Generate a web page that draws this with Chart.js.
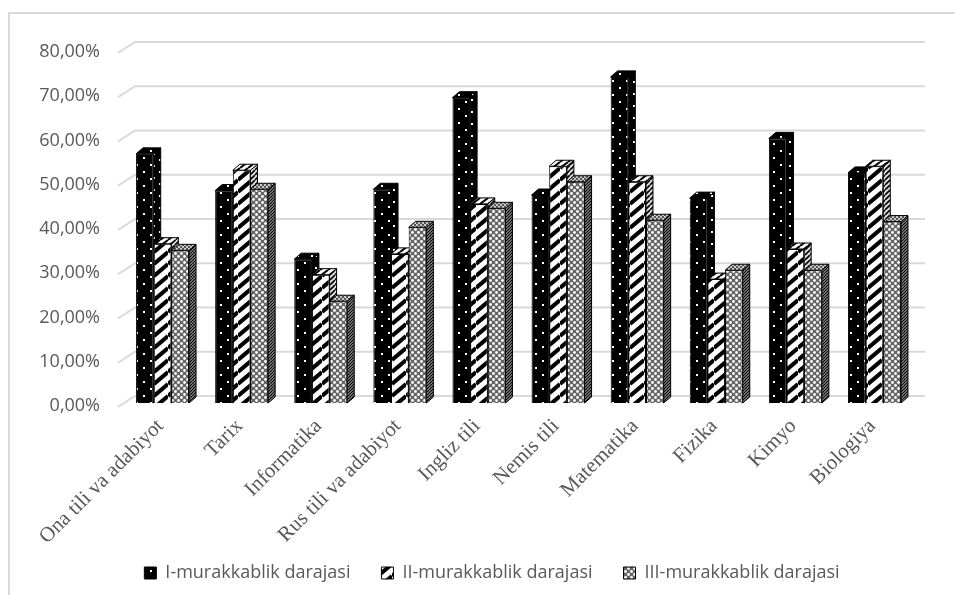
<!DOCTYPE html>
<html>
<head>
<meta charset="utf-8">
<script src="https://cdn.jsdelivr.net/npm/chart.js@4"></script>
<style>
html, body { margin: 0; padding: 0; background: #fff; }
canvas { display: block; }
</style>
</head>
<body>
<canvas id="chart" width="955" height="595"></canvas>
<script>
const categories = ['Ona tili va adabiyot', 'Tarix', 'Informatika', 'Rus tili va adabiyot', 'Ingliz tili', 'Nemis tili', 'Matematika', 'Fizika', 'Kimyo', 'Biologiya'];
const level1 = [56.3, 48, 32.5, 48.3, 69, 47, 73.7, 46.3, 59.8, 52];
const level2 = [36, 52.6, 29, 33.7, 45, 53.5, 50, 28, 34.8, 53.5];
const level3 = [34.5, 48.3, 23, 39.7, 44, 50, 41.3, 30, 30, 41];
const seriesNames = ['I-murakkablik darajasi', 'II-murakkablik darajasi', 'III-murakkablik darajasi'];

const DEPTH_X = 7;
const DEPTH_Y = 6;

function tile(w, h, paint) {
    const c = document.createElement('canvas');
    c.width = w;
    c.height = h;
    paint(c.getContext('2d'));
    return c.getContext('2d').createPattern(c, 'repeat');
}

function dots(size) {
    return tile(size, size, g => {
        g.fillStyle = '#000';
        g.fillRect(0, 0, size, size);
        g.fillStyle = '#fff';
        g.fillRect(3, 3, 2, 2);
        g.fillRect(3 + size / 2, 3 + size / 2, 2, 2);
    });
}

function stripes(w, h, lw, bg) {
    return tile(w, h, g => {
        g.fillStyle = bg;
        g.fillRect(0, 0, w, h);
        g.strokeStyle = '#000';
        g.lineWidth = lw;
        [-1, 0, 1].forEach(k => {
            g.beginPath();
            g.moveTo(0, h + k * h);
            g.lineTo(w, k * h);
            g.stroke();
        });
    });
}

function lattice(size, bg) {
    return tile(size, size, g => {
        g.fillStyle = bg;
        g.fillRect(0, 0, size, size);
        g.fillStyle = '#fff';
        [[size / 4, size / 4], [size * 3 / 4, size * 3 / 4]].forEach(p => {
            g.beginPath();
            g.arc(p[0], p[1], size / 4 - 0.1, 0, Math.PI * 2);
            g.fill();
        });
    });
}

const fronts = [dots(14), stripes(14, 12, 4, '#fff'), lattice(6, '#666')];
const sides = [dots(12), stripes(5, 5, 1.6, '#ddd'), stripes(3, 3, 1.2, '#999')];
const tops = [dots(14), stripes(8, 6, 2, '#fff'), lattice(4, '#555')];

// frame of the picture, left and top only
const framePlugin = {
    id: 'frame',
    beforeDraw(chart) {
        const c = chart.ctx;
        c.save();
        c.fillStyle = '#fff';
        c.fillRect(0, 0, chart.width, chart.height);
        c.strokeStyle = '#d9d9d9';
        c.lineWidth = 2;
        c.beginPath();
        c.moveTo(9, 595);
        c.lineTo(9, 13);
        c.lineTo(955, 13);
        c.stroke();
        c.restore();
    }
};

// back wall gridlines and the slanted stubs on the side wall
const wallPlugin = {
    id: 'wall',
    beforeDatasetsDraw(chart) {
        const c = chart.ctx;
        const y = chart.scales.y;
        c.save();
        c.strokeStyle = '#d9d9d9';
        c.lineWidth = 2;
        y.ticks.forEach(t => {
            const p = y.getPixelForValue(t.value);
            c.beginPath();
            c.moveTo(118, p + 4);
            c.lineTo(135, p - 7);
            c.lineTo(925, p - 7);
            c.stroke();
        });
        c.restore();
    }
};

function poly(c, pts, fill) {
    c.beginPath();
    pts.forEach((p, i) => i ? c.lineTo(p[0], p[1]) : c.moveTo(p[0], p[1]));
    c.closePath();
    c.fillStyle = fill;
    c.fill();
    c.stroke();
}

// chart.js paints the last dataset first, here the bars need left to right
const depthPlugin = {
    id: 'depth',
    beforeDatasetDraw() {
        return false;
    },
    afterDatasetsDraw(chart) {
        const c = chart.ctx;
        chart.data.datasets.forEach((ds, i) => {
            const meta = chart.getDatasetMeta(i);
            meta.controller.draw();
            c.save();
            c.strokeStyle = '#000';
            c.lineWidth = 1;
            meta.data.forEach(bar => {
                const l = bar.x - bar.width / 2;
                const r = bar.x + bar.width / 2;
                poly(c, [[r, bar.y], [r + DEPTH_X, bar.y - DEPTH_Y], [r + DEPTH_X, bar.base - DEPTH_Y], [r, bar.base]], sides[i]);
                poly(c, [[l, bar.y], [l + DEPTH_X, bar.y - DEPTH_Y], [r + DEPTH_X, bar.y - DEPTH_Y], [r, bar.y]], tops[i]);
            });
            c.restore();
        });
    }
};

// legend sits off centre in the reference
const legendShift = {
    id: 'legendShift',
    afterLayout(chart) {
        const lg = chart.legend;
        lg.left += 25;
        lg.right += 25;
        lg.top -= 15;
        lg.bottom -= 15;
    }
};

new Chart(document.getElementById('chart'), {
    type: 'bar',
    data: {
        labels: categories,
        datasets: [level1, level2, level3].map((values, i) => ({
            label: seriesNames[i],
            data: values,
            backgroundColor: fronts[i],
            borderColor: '#000',
            borderWidth: 1,
            barPercentage: 1,
            categoryPercentage: 0.67
        }))
    },
    options: {
        responsive: false,
        animation: false,
        layout: {
            padding: { left: 20, right: 41, top: 49, bottom: -12 }
        },
        plugins: {
            tooltip: { enabled: false },
            legend: {
                position: 'bottom',
                labels: {
                    boxWidth: 12,
                    boxHeight: 12,
                    padding: 31,
                    color: '#595959',
                    font: { family: '"Open Sans"', size: 18 }
                }
            }
        },
        scales: {
            x: {
                grid: { display: false },
                border: { display: false },
                afterFit: s => { s.height = 145; },
                ticks: {
                    autoSkip: false,
                    minRotation: 45,
                    maxRotation: 45,
                    padding: 3,
                    labelOffset: -2,
                    color: '#595959',
                    font: { family: '"Liberation Serif"', size: 21 }
                }
            },
            y: {
                min: 0,
                max: 80,
                afterFit: s => { s.width = 103; },
                grid: { display: false, drawTicks: false },
                border: { display: false },
                ticks: {
                    stepSize: 10,
                    padding: 23,
                    labelOffset: 3,
                    color: '#595959',
                    font: { family: '"Open Sans"', size: 18 },
                    callback: v => v.toFixed(2).replace('.', ',') + '%'
                }
            }
        }
    },
    plugins: [framePlugin, wallPlugin, depthPlugin, legendShift]
});
</script>
</body>
</html>
